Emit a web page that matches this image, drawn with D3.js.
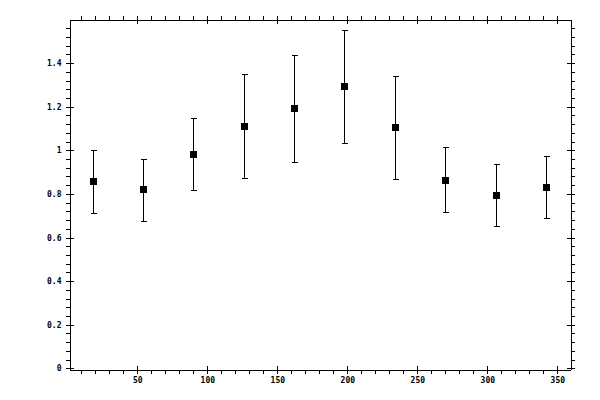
<!DOCTYPE html>
<html>
<head>
<meta charset="utf-8">
<script src="https://cdn.jsdelivr.net/npm/d3@7"></script>
<style>
  body { margin: 0; background: #fff; }
  text { font-family: "DejaVu Sans Mono", monospace; font-size: 8px; font-weight: bold; fill: #000; }
</style>
</head>
<body>
<script>
// Data
const xValues = [18, 54, 90, 126, 162, 198, 234, 270, 306, 342];
const yValues = [0.858, 0.821, 0.982, 1.111, 1.193, 1.294, 1.106, 0.863, 0.794, 0.831];
const yUpper  = [1.003, 0.962, 1.149, 1.349, 1.436, 1.554, 1.343, 1.014, 0.936, 0.973];
const yLower  = [0.711, 0.676, 0.817, 0.872, 0.945, 1.033, 0.867, 0.717, 0.652, 0.688];

// Tick values
const xMajor = [50, 100, 150, 200, 250, 300, 350];
const xMinor = d3.range(10, 360, 10).filter(v => v % 50 !== 0);
const yMajor = [0, 0.2, 0.4, 0.6, 0.8, 1, 1.2, 1.4];
const yMinor = d3.range(1, 40).map(i => i * 0.04).filter((v, i) => (i + 1) % 5 !== 0);

const width = 600;
const height = 400;
const pLeft = 69.5, pRight = 570.5, pTop = 19.5, pBottom = 369.5;

const svg = d3.select("body")
  .append("svg")
  .attr("width", width)
  .attr("height", height)
  .attr("shape-rendering", "crispEdges");

const x = d3.scaleLinear().domain([1.57, 359.43]).range([pLeft, pRight]);
const y = d3.scaleLinear().domain([-0.0055, 1.6]).range([pBottom, pTop]);

// one side of the frame: major ticks cross the line, minor ticks point out
function side(axisFn, scale, major, minor, transform, labels, inwardSign) {
  const g = svg.append("g").attr("transform", transform);
  g.call(axisFn(scale).tickValues(major)
    .tickSize(4).tickSizeOuter(0).tickPadding(4)
    .tickFormat(labels ? d3.format("") : ""));
  g.append("g").call(axisFn(scale).tickValues(minor)
    .tickSize(4).tickSizeOuter(0).tickFormat(""));
  // extend majors inward
  g.selectAll(".tick line").filter(function() {
    return this.parentNode.parentNode === g.node();
  }).each(function() {
    const l = d3.select(this);
    if (l.attr("x2") !== null) l.attr("x1", inwardSign * 4);
    else l.attr("y1", inwardSign * 4);
  });
  g.selectAll("path.domain").attr("stroke", "#000");
  g.selectAll("line").attr("stroke", "#000");
  g.selectAll("text").attr("fill", "#000");
  return g;
}

side(d3.axisBottom, x, xMajor, xMinor, `translate(0,${pBottom})`, true, -1);
side(d3.axisTop, x, xMajor, xMinor, `translate(0,${pTop})`, false, 1);
const yAxisG = side(d3.axisLeft, y, yMajor, yMinor, `translate(${pLeft},0)`, true, 1);
yAxisG.selectAll("text").attr("x", -8);
side(d3.axisRight, y, yMajor, yMinor, `translate(${pRight},0)`, false, -1);

svg.selectAll("text").style("font-size", "8px");

const pts = xValues.map((v, i) => ({ x: v, y: yValues[i], hi: yUpper[i], lo: yLower[i] }));

// error bars
const bars = svg.append("g").attr("stroke", "#000").attr("stroke-width", 1);
bars.selectAll("line.v").data(pts).enter().append("line")
  .attr("class", "v")
  .attr("x1", d => Math.round(x(d.x)) + 0.5)
  .attr("x2", d => Math.round(x(d.x)) + 0.5)
  .attr("y1", d => Math.round(y(d.hi)) + 0.5)
  .attr("y2", d => Math.round(y(d.lo)) + 0.5);
bars.selectAll("line.hi").data(pts).enter().append("line")
  .attr("class", "hi")
  .attr("x1", d => Math.round(x(d.x)) - 2.5)
  .attr("x2", d => Math.round(x(d.x)) + 3.5)
  .attr("y1", d => Math.round(y(d.hi)) + 0.5)
  .attr("y2", d => Math.round(y(d.hi)) + 0.5);
bars.selectAll("line.lo").data(pts).enter().append("line")
  .attr("class", "lo")
  .attr("x1", d => Math.round(x(d.x)) - 2.5)
  .attr("x2", d => Math.round(x(d.x)) + 3.5)
  .attr("y1", d => Math.round(y(d.lo)) + 0.5)
  .attr("y2", d => Math.round(y(d.lo)) + 0.5);

// square markers
svg.selectAll("rect.pt").data(pts).enter().append("rect")
  .attr("class", "pt")
  .attr("x", d => Math.round(x(d.x)) - 3)
  .attr("y", d => Math.round(y(d.y)) - 3)
  .attr("width", 7)
  .attr("height", 7)
  .attr("fill", "#000");
</script>
</body>
</html>
